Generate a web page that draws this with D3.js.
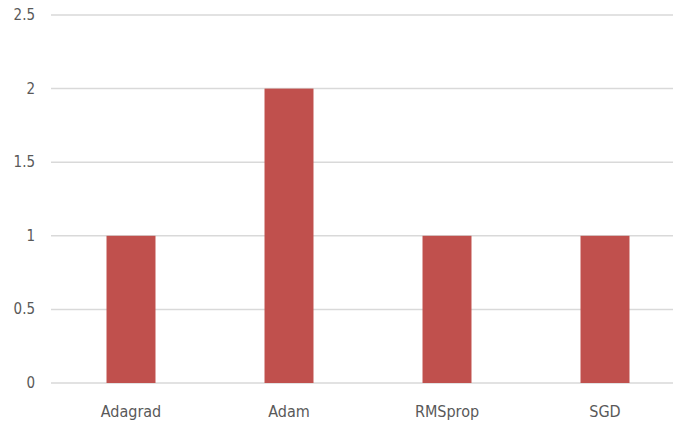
<html>
<head>
<script src="https://d3js.org/d3.v7.min.js"></script>
<style>
  body { margin: 0; background: #fff; }
  text { font-family: "Liberation Sans Narrow", "DejaVu Sans Condensed", sans-serif; fill: #595959; font-size: 15px; }
</style>
</head>
<body>
<script>
const optimizers = ['Adagrad', 'Adam', 'RMSprop', 'SGD'];
const counts = [1, 2, 1, 1];
const yTicks = [0, 0.5, 1, 1.5, 2, 2.5];

const w = 673, h = 426;
const svg = d3.select('body').append('svg')
    .attr('width', w)
    .attr('height', h);

const x = d3.scaleBand()
    .domain(optimizers)
    .range([52, 684])
    .paddingInner(0.69)
    .paddingOuter(0.345);

const y = d3.scaleLinear()
    .domain([0, 2.5])
    .range([383, 15]);

// gridlines
svg.append('g')
    .selectAll('line')
    .data(yTicks)
    .enter()
    .append('line')
    .attr('x1', 51)
    .attr('x2', w)
    .attr('y1', d => y(d))
    .attr('y2', d => y(d))
    .style('stroke', '#d9d9d9')
    .style('stroke-width', 1.5);

// y labels
svg.append('g')
    .selectAll('text')
    .data(yTicks)
    .enter()
    .append('text')
    .attr('x', 35)
    .attr('y', d => y(d) + 5)
    .attr('text-anchor', 'end')
    .text(d => d);

// bars
svg.append('g')
    .selectAll('rect')
    .data(counts)
    .enter()
    .append('rect')
    .attr('x', (d, i) => x(optimizers[i]))
    .attr('y', d => y(d))
    .attr('width', x.bandwidth())
    .attr('height', d => y(0) - y(d))
    .attr('fill', '#c0504d');

// x labels
svg.append('g')
    .selectAll('text')
    .data(optimizers)
    .enter()
    .append('text')
    .attr('x', d => x(d) + x.bandwidth() / 2)
    .attr('y', 417)
    .attr('text-anchor', 'middle')
    .style('font-size', '16px')
    .text(d => d);
</script>
</body>
</html>
